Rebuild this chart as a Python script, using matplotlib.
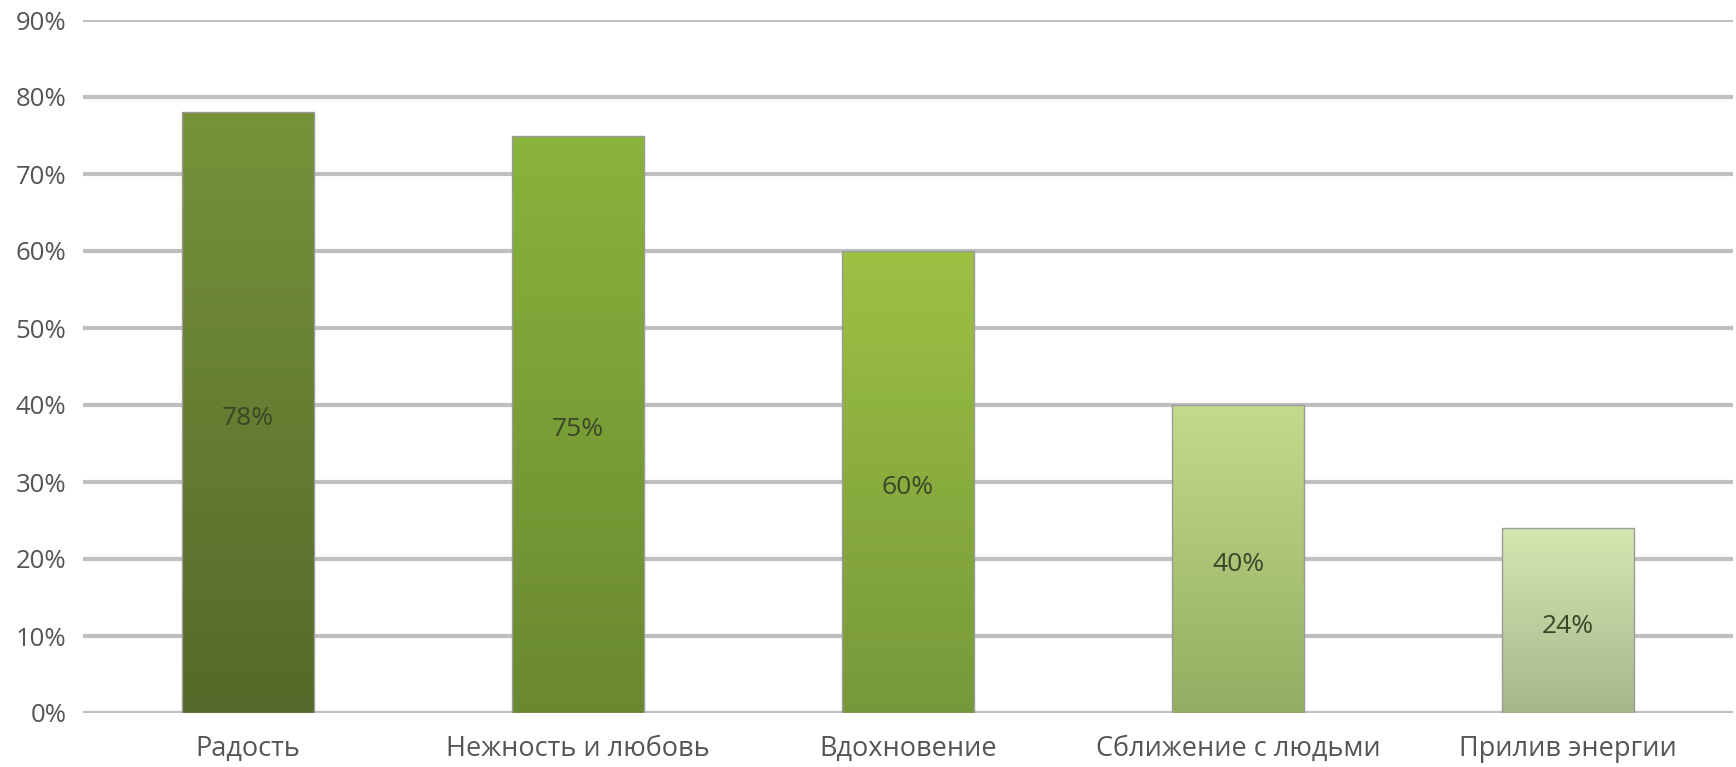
import numpy as np
import matplotlib
matplotlib.use("Agg")
import matplotlib.pyplot as plt
from matplotlib.colors import LinearSegmentedColormap

categories = ["Радость", "Нежность и любовь", "Вдохновение", "Сближение с людьми", "Прилив энергии"]
values = [0.78, 0.75, 0.60, 0.40, 0.24]
yticks = [0, 0.1, 0.2, 0.3, 0.4, 0.5, 0.6, 0.7, 0.8, 0.9]
ytick_labels = ["0%", "10%", "20%", "30%", "40%", "50%", "60%", "70%", "80%", "90%"]
top_colors = ["#76933a", "#8ab43c", "#9cc143", "#c3da8a", "#d5e7b0"]
bottom_colors = ["#55692a", "#6a8830", "#77983a", "#93ae62", "#a6b78c"]

plt.rcParams['font.family'] = ['Open Sans', 'DejaVu Sans']

fig = plt.figure(figsize=(17.36, 7.67), dpi=100)
ax = fig.add_axes([83/1736, 54/767, 1650/1736, 693/767])

x = np.arange(len(categories))
bars = ax.bar(x, values, width=0.4, color="none", edgecolor="#9a9a9a", linewidth=1.0, zorder=3)

for b, tc, bc in zip(bars, top_colors, bottom_colors):
    cmap = LinearSegmentedColormap.from_list("g", [bc, tc])
    grad = np.linspace(0, 1, 256).reshape(-1, 1)
    bx, by = b.get_x(), b.get_y()
    w, h = b.get_width(), b.get_height()
    im = ax.imshow(grad, cmap=cmap, aspect="auto", origin="lower",
                   extent=[bx, bx + w, by, by + h], zorder=2)
    im.set_clip_path(b)

for xi, v in zip(x, values):
    ax.annotate(f"{int(round(v*100))}%", xy=(xi, v / 2), xytext=(0, -4),
                textcoords="offset points", ha="center", va="center",
                fontsize=19, color="#3a4628", zorder=4)

ax.set_xlim(-0.5, len(categories) - 0.5)
ax.set_ylim(0, 0.9)
ax.set_yticks(yticks)
ax.set_yticklabels(ytick_labels, fontsize=18.5)
ax.set_xticks(x)
ax.set_xticklabels(categories, fontsize=19.5)
ax.yaxis.grid(True, color="#bfbfbf", linewidth=3, zorder=0)
ax.set_axisbelow(True)
for s in ax.spines.values():
    s.set_visible(False)
ax.tick_params(axis="both", length=0, colors="#555555")
ax.tick_params(axis="y", pad=12)
ax.tick_params(axis="x", pad=16)

fig.savefig("out.png", dpi=100)
